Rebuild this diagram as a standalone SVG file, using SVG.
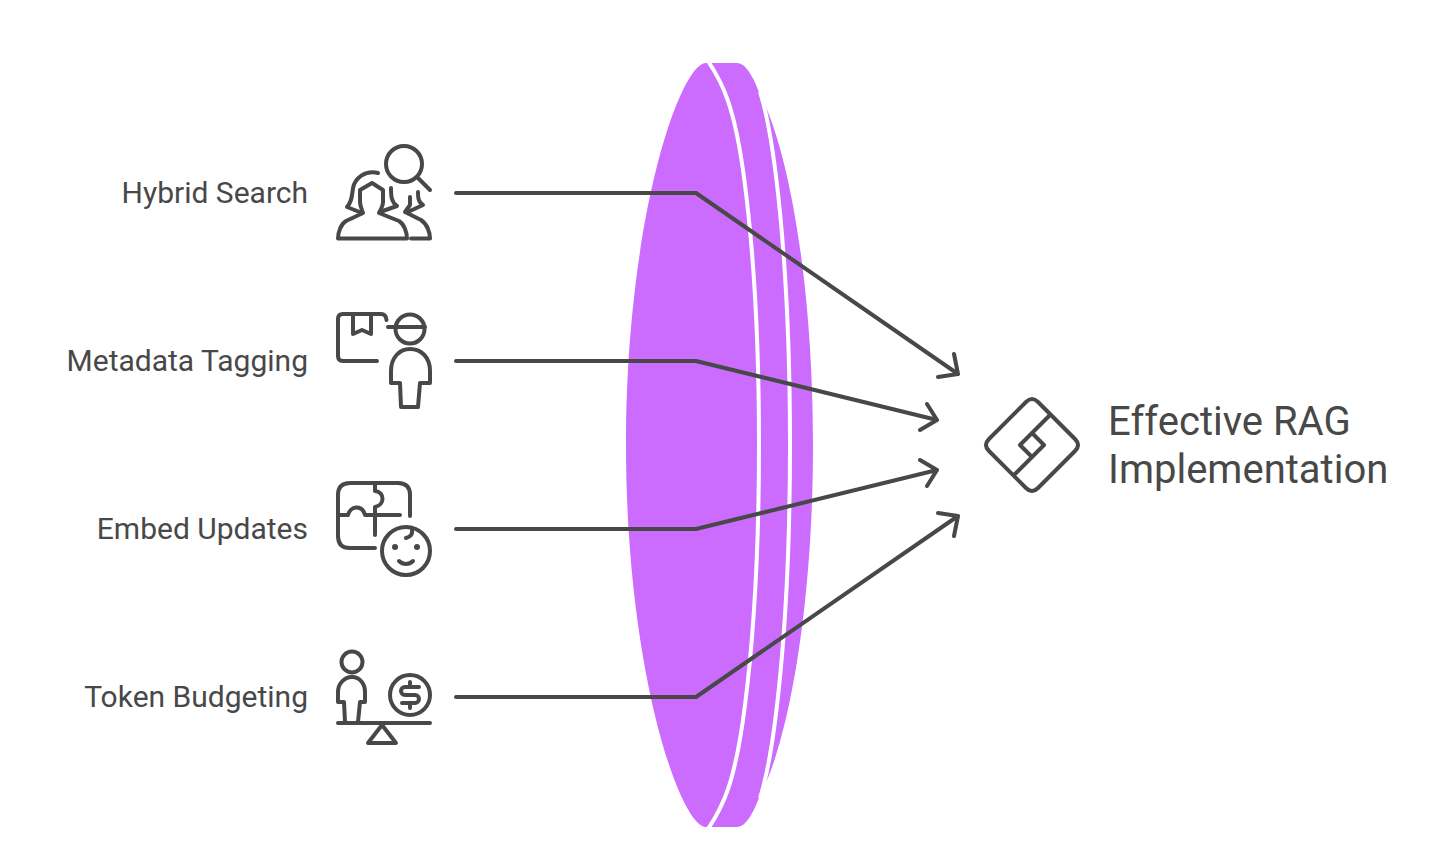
<svg xmlns="http://www.w3.org/2000/svg" width="1440" height="850" viewBox="0 0 1440 850">
<style>
.l{font-family:Roboto,"Liberation Sans",sans-serif;fill:#484848;font-size:30px;text-anchor:end}
.t{font-family:Roboto,"Liberation Sans",sans-serif;fill:#484848;font-size:40px}
.i{fill:none;stroke:#484848;stroke-width:4;stroke-linecap:round;stroke-linejoin:round}
.c{fill:none;stroke:#484848;stroke-width:4;stroke-linecap:round;stroke-linejoin:round}
.gap{fill:none;stroke:#fff;stroke-width:4}
</style>
<g id="lens">
<path fill="#cc6cfe" d="M706 63C680 63 626 220 626 445C626 670 680 827 706 827H737C746 827 754 812 760 795C785 750 813 620 813 445C813 270 785 140 760 95C754 78 746 63 737 63Z"/>
<path class="gap" d="M708 61C722 82 735 105 745 185C752 240 759 320 759 445C759 570 752 650 745 705C735 785 722 808 708 829"/>
<path class="gap" d="M760 92C774 135 790 260 790 445C790 630 774 755 760 798"/>
</g>
<g id="connectors">
<path class="c" d="M456 193H696L958 374M954 354L958 374L938 377"/>
<path class="c" d="M456 361H696L937 420M927 404L937 420L920 430"/>
<path class="c" d="M456 529H696L937 470M920 460L937 470L927 486"/>
<path class="c" d="M456 697H696L958 516M938 513L958 516L954 536"/>
</g>
<g id="hybrid-search">
<text class="l" x="308" y="203">Hybrid Search</text>
<g class="i">
<circle cx="404" cy="164" r="18"/><path d="M418 178L430 190"/>
<path d="M372 183L360 190V202C360 206 362 210 363 213L346 221C341 224 338 232 338 238.500H407C407 232 404 224 399 221L379 213C381 209 383 206 383 202V190Z"/>
<path d="M378 173C365 170 355 178 353 188C352 195 352 202 347 207L362 213M391 188C391 195 391 202 397 206L380 212"/>
<path d="M418 192C418 197 418 202 423 205L410 211M410 197V205L405 212L421 220C427 224 430 232 430 238.500H411"/>
</g>
</g>
<g id="metadata-tagging">
<text class="l" x="308" y="371">Metadata Tagging</text>
<g class="i">
<path d="M377 361H343Q338 361 338 356V319Q338 314 343 314H381Q386 314 386.500 320M353 314V334L362 330L371 334V314"/>
<circle cx="410" cy="329" r="14.500"/><path d="M388 327H425"/>
<path d="M400 383H391V371C391 357 400 349 410 349C421 349 430 357 430 371V383H420L418 407H401Z"/>
</g>
</g>
<g id="embed-updates">
<text class="l" x="308" y="539">Embed Updates</text>
<g class="i">
<path d="M375 548H350Q338 548 338 536V495Q338 483 350 483H398Q410 483 410 495V516"/>
<path d="M338 515H348C350 506 362 504 365 515H400M375 483V491C385 492 385 505 375 507V535"/>
<circle cx="406" cy="551" r="24"/>
<path d="M412 530C413 535 410 537 406 538M399 561C403 565 409 565 413 561"/>
<circle cx="395" cy="547" r="3" fill="#484848" stroke="none"/><circle cx="417" cy="547" r="3" fill="#484848" stroke="none"/>
</g>
</g>
<g id="token-budgeting">
<text class="l" x="308" y="707">Token Budgeting</text>
<g class="i">
<circle cx="352" cy="662" r="10.500"/>
<path d="M345 722L344 702H338V692C338 684 344 677 352 677C360 677 365 684 365 692V702H360L358 722"/>
<path d="M338 723H430M382 725L396 743H368Z"/>
<circle cx="410" cy="695" r="20"/>
<path d="M419 687H405A4 4 0 0 0 405 695H415A4 4 0 0 1 415 703H402M410 682V687M410 703V708"/>
</g>
</g>
<g id="effective-rag">
<g class="i">
<path d="M1026 402Q1032 396 1038 402L1075 439Q1081 445 1075 451L1038 488Q1032 494 1026 488L989 451Q983 445 989 439Z"/>
<path d="M1049 416L1020 445L1032 457L1044 445L1032 433M1044 445L1015 474"/>
</g>
<text class="t" x="1108" y="435">Effective RAG</text>
<text class="t" x="1108" y="483">Implementation</text>
</g>
</svg>
